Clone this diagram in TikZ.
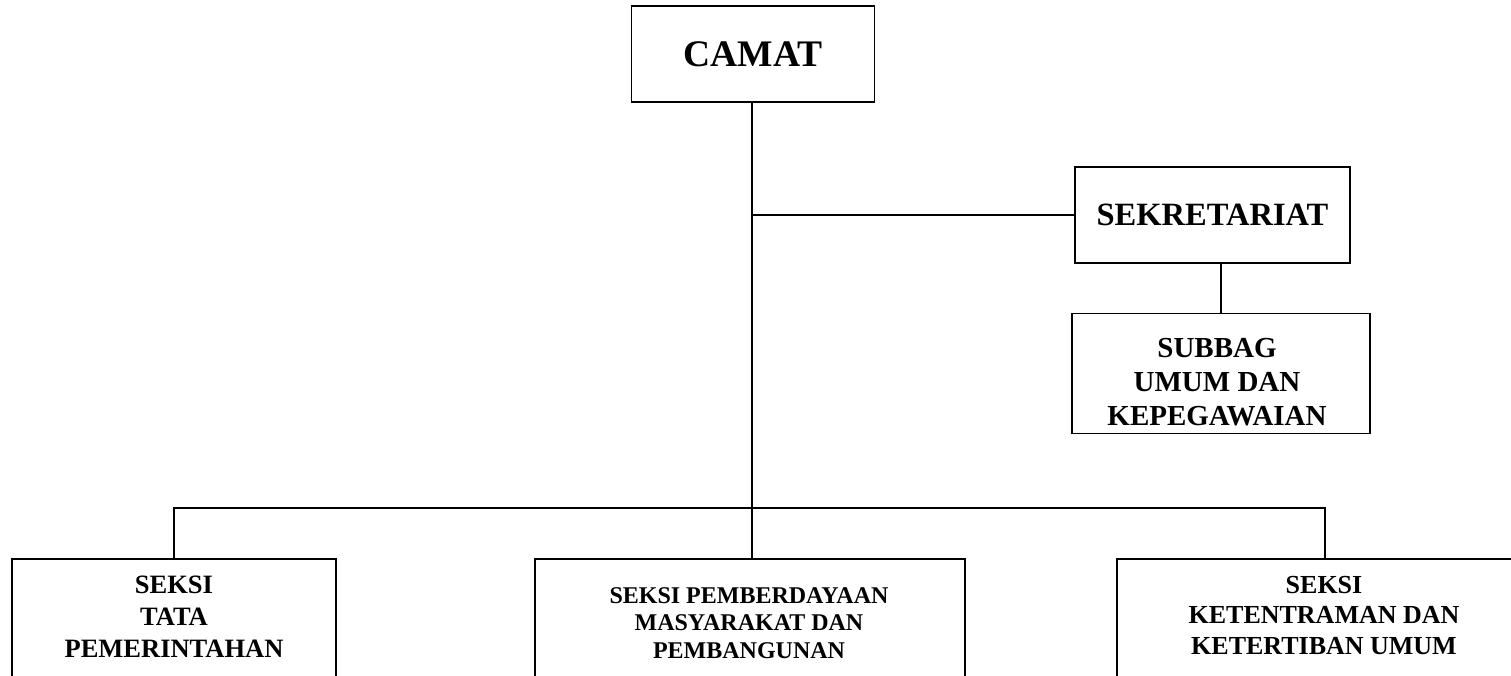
\documentclass[tikz,border=0pt]{standalone}
\usepackage{fontspec}
\setmainfont{Liberation Serif}
\begin{document}
\begin{tikzpicture}[x=1pt,y=-1pt,
  box/.style={draw, line width=1.8pt, rectangle, inner sep=0pt, align=center},
  lbl/.style={align=center, inner sep=0pt, anchor=north},
  conn/.style={line width=1.6pt}]
\useasboundingbox (0,0) rectangle (1511,676);
\clip (0,0) rectangle (1511,676);
% top boxes
\node[box, minimum width=243pt, minimum height=96pt,
  font=\bfseries\fontsize{37.5}{44}\selectfont] (camat) at (753,54) {CAMAT};
\node[box, minimum width=275pt, minimum height=96pt,
  font=\bfseries\fontsize{32.5}{38}\selectfont] (sek) at (1212.5,215) {SEKRETARIAT};
\node[box, minimum width=298pt, minimum height=120pt] (subbag) at (1221,373.5) {};
\node[lbl, font=\bfseries\fontsize{29}{34}\selectfont] (subbagt) at (1217,338)
  {SUBBAG\\UMUM DAN\\KEPEGAWAIAN};
% bottom boxes (cut off at the page edge)
\node[box, minimum width=324pt, minimum height=200pt, anchor=north] (tata) at (174,558) {};
\node[lbl, font=\bfseries\fontsize{26.5}{32}\selectfont] (tatat) at (174,575.5)
  {SEKSI\\TATA\\PEMERINTAHAN};
\node[box, minimum width=430pt, minimum height=200pt, anchor=north] (pemb) at (750,558) {};
\node[lbl, font=\bfseries\fontsize{24}{27.5}\selectfont] (pembt) at (749,587)
  {SEKSI PEMBERDAYAAN\\MASYARAKAT DAN\\PEMBANGUNAN};
\node[box, minimum width=416pt, minimum height=200pt, anchor=north] (trantib) at (1325,558) {};
\node[lbl, font=\bfseries\fontsize{26}{30.5}\selectfont] (trantibt) at (1324,576)
  {SEKSI\\KETENTRAMAN DAN\\KETERTIBAN UMUM};
% connectors
\coordinate (j1) at (752,215);
\coordinate (j2) at (752,508);
\draw[conn] (camat.south -| j2) -- (j2) -- (j2 |- pemb.north);
\draw[conn] (j1) -- (sek.west);
\draw[conn] (subbag.north) -- (subbag.north |- sek.south);
\draw[conn] (tata.north) -- (tata.north |- j2) -- (trantib.north |- j2) -- (trantib.north);
\end{tikzpicture}
\end{document}
